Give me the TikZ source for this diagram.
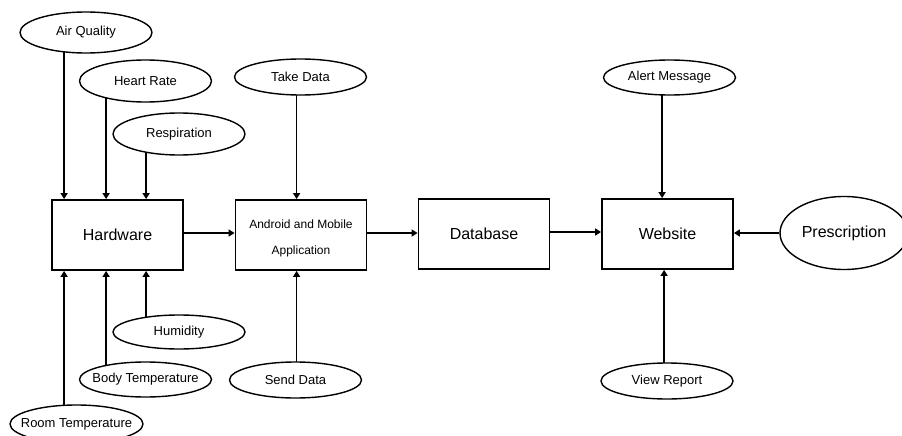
\documentclass[tikz,border=0pt]{standalone}
\usepackage{fontspec}
\setmainfont{Liberation Sans}
\usetikzlibrary{shapes.geometric,arrows.meta,backgrounds}
\begin{document}
\begin{tikzpicture}[x=1pt,y=-1pt,
  ell/.style={ellipse,draw,line width=1.4pt,fill=white,inner ysep=0pt,inner xsep=-12pt,minimum width=132pt,font=\fontsize{13}{15}\selectfont},
  blk/.style={rectangle,draw,line width=1.8pt,fill=white,inner sep=0pt,minimum width=131pt,minimum height=70pt,font=\fontsize{16}{19}\selectfont},
  arr/.style={line width=1.7pt,-{Triangle[length=6pt,width=7pt]}}]
\useasboundingbox (0,0) rectangle (902,436);
\clip (0,0) rectangle (902,436);
% boxes
\node[blk] (hw) at (117.5,235) {Hardware};
\node[blk,align=center,font=\fontsize{12}{26}\selectfont] (and) at (301,235) {\rule{0pt}{15pt}Android and Mobile\\Application};
\node[blk] (db) at (484,234) {Database};
\node[blk] (web) at (667.5,234) {Website};
% ellipses top
\node[ell,minimum height=41pt] (aq) at (86,32.5) {Air Quality};
\node[ell,minimum height=42pt] (hr) at (145.5,81) {Heart Rate};
\node[ell,minimum height=42pt] (rs) at (179,134) {Respiration};
\node[ell,minimum height=36pt] (td) at (300.5,77) {Take Data};
\node[ell,minimum height=35pt] (am) at (669.5,77.5) {Alert Message};
% ellipses bottom
\node[ell,minimum height=34pt] (hu) at (179,332) {Humidity};
\node[ell,minimum height=35pt] (bt) at (145.5,379.5) {Body Temperature};
\node[ell,minimum width=133pt,minimum height=38pt] (rt) at (76.5,424) {Room Temperature};
\node[ell,minimum height=36pt] (sd) at (295.5,380) {Send Data};
\node[ell,minimum height=36pt] (vr) at (667,381) {View Report};
\node[ell,minimum width=128pt,minimum height=73pt,font=\fontsize{16}{19}\selectfont] (pr) at (844,233) {Prescription};
% arrow attachment points
\coordinate (h1) at ([xshift=13pt]hw.north west);
\coordinate (h2) at ([xshift=55pt]hw.north west);
\coordinate (h3) at ([xshift=95pt]hw.north west);
\coordinate (b1) at ([xshift=13pt]hw.south west);
\coordinate (b2) at ([xshift=55pt]hw.south west);
\coordinate (b3) at ([xshift=95pt]hw.south west);
\coordinate (a1) at ([xshift=62pt]and.north west);
\coordinate (a2) at ([xshift=62pt]and.south west);
\coordinate (w1) at ([xshift=61pt]web.north west);
\coordinate (w2) at ([xshift=63pt]web.south west);
\coordinate (e1) at ([yshift=2pt]hw.east);
\coordinate (e2) at ([yshift=2pt]and.east);
\coordinate (e3) at ([yshift=2pt]db.east);
\begin{pgfonlayer}{background}
\draw[arr] (aq.center -| h1) -- (h1);
\draw[arr] (hr.center -| h2) -- (h2);
\draw[arr] (rs.center -| h3) -- (h3);
\draw[arr] (rt.center -| b1) -- (b1);
\draw[arr] (bt.center -| b2) -- (b2);
\draw[arr] (hu.center -| b3) -- (b3);
\draw[arr] (td.center -| a1) -- (a1);
\draw[arr] (sd.center -| a2) -- (a2);
\draw[arr] (am.center -| w1) -- (w1);
\draw[arr] (vr.center -| w2) -- (w2);
\end{pgfonlayer}
\draw[arr] (e1) -- (e1 -| and.west);
\draw[arr] (e2) -- (e2 -| db.west);
\draw[arr] (e3) -- (e3 -| web.west);
\draw[arr] (pr.west) -- (pr.west -| web.east);
\end{tikzpicture}
\end{document}
